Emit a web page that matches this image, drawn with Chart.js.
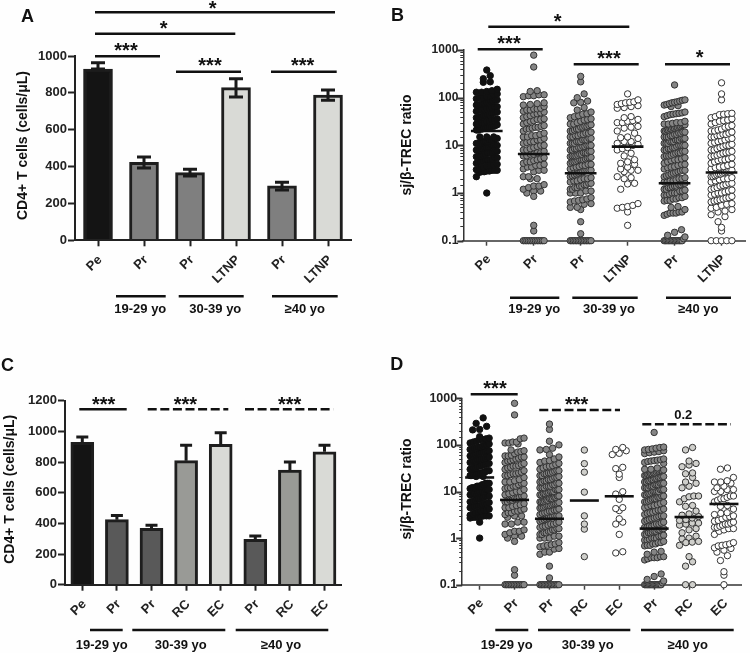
<!DOCTYPE html>
<html>
<head>
<meta charset="utf-8">
<title>CD4+ T cells and sj/beta-TREC ratio</title>
<script src="https://cdn.jsdelivr.net/npm/chart.js@4/dist/chart.umd.min.js"></script>
<style>
  html, body { margin: 0; padding: 0; background: #fefefe; }
  #page { position: relative; width: 750px; height: 653px; overflow: hidden; }
  canvas { position: absolute; }
</style>
</head>
<body>
<div id="page">
  <canvas id="panelA" width="375" height="326" style="left:0;top:0"></canvas>
  <canvas id="panelB" width="375" height="326" style="left:375px;top:0"></canvas>
  <canvas id="panelC" width="375" height="327" style="left:0;top:326px"></canvas>
  <canvas id="panelD" width="375" height="327" style="left:375px;top:326px"></canvas>
</div>
<script>
// panel A + C bars
const labelsA = ['Pe', 'Pr', 'Pr', 'LTNP', 'Pr', 'LTNP'];
const meansA = [929, 423, 367, 828, 296, 788];
const upperA = [964, 452, 385, 877, 315, 815];
const lowerA = [929, 392, 349, 778, 273, 760];

const labelsC = ['Pe', 'Pr', 'Pr', 'RC', 'EC', 'Pr', 'RC', 'EC'];
const meansC = [928, 424, 367, 809, 915, 296, 748, 867];
const upperC = [963, 452, 387, 909, 991, 317, 800, 909];

// panel B + D dots
const dotsPe = [1, 2.2, 2.7, 2.8, 2.8, 2.9, 2.9, 3, 3, 3, 3.1, 3.3, 3.5, 3.7, 3.8, 4, 4, 4.2, 4.5, 4.5, 4.8, 5, 5, 5, 5.2, 5.5, 5.5, 5.8, 6, 6, 6.2, 6.5, 7, 7, 7, 7.5, 7.5, 8, 8, 8, 8.5, 8.5, 9, 9, 9, 9.5, 10, 10, 10, 10, 11, 11, 11, 11.5, 12, 12, 12, 13, 13, 13, 14, 14, 15, 15, 15, 21, 21, 22, 22, 23, 23, 24, 24, 25, 25, 26, 27, 28, 28, 30, 30, 32, 32, 35, 35, 36, 38, 38, 40, 40, 42, 42, 45, 45, 48, 48, 50, 50, 52, 55, 55, 58, 60, 60, 62, 65, 65, 70, 70, 72, 75, 75, 80, 80, 85, 85, 90, 90, 95, 100, 100, 105, 110, 115, 120, 130, 130, 135, 140, 150, 210, 215, 250, 290, 380];
const dotsPr19 = [0.1, 0.1, 0.1, 0.1, 0.1, 0.1, 0.1, 0.1, 0.1, 0.1, 0.1, 0.1, 0.1, 0.16, 0.21, 0.85, 1, 1.1, 1.1, 1.2, 1.3, 1.4, 1.4, 1.5, 2, 2, 2.2, 2.2, 2.8, 3, 3, 3.2, 3.5, 3.5, 3.8, 3.8, 4, 4.2, 4.5, 4.5, 4.8, 5, 5.2, 5.5, 6, 6, 6.5, 6.5, 7, 7, 7.5, 8, 8, 8.5, 9, 9.5, 10, 10, 11, 11.5, 12, 12, 13, 13, 14, 15, 15, 16, 16, 17, 18, 20, 22, 22, 23, 24, 24, 25, 26, 28, 30, 32, 33, 35, 35, 36, 38, 40, 42, 45, 46, 48, 50, 52, 55, 55, 58, 58, 60, 65, 70, 72, 75, 78, 105, 110, 110, 115, 115, 135, 140, 440, 780];
const dotsPr30 = [0.1, 0.1, 0.1, 0.1, 0.1, 0.1, 0.1, 0.1, 0.1, 0.1, 0.1, 0.1, 0.1, 0.1, 0.14, 0.25, 0.45, 0.5, 0.5, 0.58, 0.6, 0.65, 0.68, 0.7, 0.72, 0.75, 0.8, 1, 1, 1, 1.1, 1.1, 1.2, 1.2, 1.3, 1.3, 1.4, 1.4, 1.5, 1.5, 1.6, 1.6, 1.7, 1.8, 1.8, 1.9, 2, 2, 2.1, 2.2, 2.3, 2.4, 2.5, 2.6, 2.7, 2.8, 2.9, 3, 3, 3, 3.2, 3.4, 3.5, 3.6, 3.8, 3.8, 4, 4, 4.2, 4.4, 4.5, 4.6, 4.8, 5, 5, 5, 5.2, 5.4, 5.5, 5.6, 5.8, 6, 6, 6, 6.2, 6.5, 6.5, 7, 7, 7, 7.5, 7.5, 8, 8, 8.5, 8.5, 9, 9, 9.5, 9.5, 10, 10, 10, 11, 11, 11, 12, 12, 12, 13, 13, 13, 14, 14, 15, 15, 16, 16, 17, 17, 18, 18, 19, 20, 20, 21, 22, 22, 24, 24, 25, 25, 26, 27, 28, 28, 30, 32, 34, 35, 36, 38, 40, 42, 45, 46, 50, 55, 62, 78, 80, 85, 100, 120, 215, 280];
const dotsLtnp30 = [0.21, 0.4, 0.48, 0.5, 0.52, 0.55, 0.6, 1.2, 1.55, 1.6, 2, 2.1, 2.2, 2.8, 3, 3, 3.2, 3.5, 4, 4.2, 4.5, 5, 6, 6.8, 8, 8.5, 9, 10, 10.5, 11, 12, 12, 14, 14.5, 15, 18, 20, 23, 24, 25, 30, 30, 32, 33, 35, 38, 40, 60, 62, 65, 68, 72, 75, 78, 80, 82, 90, 120];
const dotsPr40 = [0.1, 0.1, 0.1, 0.1, 0.1, 0.1, 0.1, 0.1, 0.1, 0.1, 0.1, 0.1, 0.1, 0.1, 0.11, 0.12, 0.13, 0.15, 0.17, 0.34, 0.36, 0.38, 0.38, 0.38, 0.4, 0.4, 0.45, 0.5, 0.52, 0.68, 0.7, 0.7, 0.75, 0.75, 0.8, 0.8, 0.85, 0.9, 0.9, 0.95, 1, 1, 1, 1.1, 1.1, 1.15, 1.2, 1.2, 1.3, 1.3, 1.35, 1.4, 1.4, 1.5, 1.5, 1.6, 1.6, 1.7, 1.7, 1.8, 1.8, 1.9, 2, 2, 2.1, 2.2, 2.3, 2.4, 2.5, 2.6, 2.7, 2.8, 2.9, 3, 3, 3.2, 3.4, 3.5, 3.6, 3.8, 4, 4, 4.2, 4.5, 4.8, 5, 5, 5.2, 5.5, 5.8, 6, 6, 6.2, 6.5, 6.8, 7, 7, 7.5, 7.5, 8, 8, 8.5, 8.5, 9, 9, 9.5, 10, 10, 10, 10, 11, 11, 11, 12, 12, 12, 13, 13, 13, 14, 14, 14, 15, 15, 15, 16, 16, 17, 17, 18, 18, 19, 19, 20, 20, 21, 21, 22, 22, 23, 23, 24, 24, 25, 25, 26, 27, 27, 28, 28, 29, 30, 30, 32, 40, 42, 44, 45, 46, 47, 48, 50, 65, 68, 70, 72, 75, 78, 80, 82, 85, 88, 90, 185];
const dotsLtnp40 = [0.1, 0.1, 0.1, 0.1, 0.1, 0.16, 0.19, 0.25, 0.32, 0.35, 0.4, 0.42, 0.45, 0.48, 0.5, 0.55, 0.58, 0.6, 0.65, 0.68, 0.7, 0.72, 0.75, 0.78, 0.8, 0.85, 0.9, 0.95, 1, 1, 1.05, 1.1, 1.15, 1.2, 1.25, 1.3, 1.4, 1.45, 1.5, 1.6, 1.6, 1.7, 1.8, 1.9, 2, 2, 2.1, 2.2, 2.2, 2.3, 2.4, 2.5, 2.5, 2.6, 2.7, 2.8, 2.9, 3, 3, 3.2, 3.4, 3.5, 3.6, 3.8, 4, 4.2, 4.5, 4.8, 5, 5, 5.2, 5.5, 5.8, 6, 6.2, 6.5, 6.8, 7, 7.2, 7.5, 8, 8, 8.5, 9, 9.5, 10, 10, 10.5, 11, 11.5, 12, 12.5, 13, 14, 14, 15, 15, 16, 16, 17, 17, 18, 19, 20, 20, 21, 22, 24, 25, 26, 28, 30, 32, 33, 34, 36, 38, 40, 44, 45, 46, 47, 90, 120, 205];
const dotsRc30 = [0.4, 1.56, 2, 3, 9.7, 26, 39.6, 77.6];
const dotsEc30 = [0.48, 0.51, 1.2, 2, 2.2, 2.6, 3.9, 4.3, 4.5, 6.8, 8.8, 9.9, 20, 23.5, 31, 33, 62, 66, 75, 80, 88];
const dotsRc40 = [0.1, 0.1, 0.25, 0.31, 0.4, 0.7, 0.8, 0.82, 0.85, 0.96, 1, 1.1, 1.3, 1.5, 1.6, 1.9, 2, 2.1, 2.1, 2.4, 2.5, 2.7, 2.9, 3.1, 3.3, 3.8, 4.8, 5, 6, 7, 7.7, 8, 8, 12, 13, 15, 16, 20, 24, 25, 34, 37, 40, 45, 78, 88];
const dotsEc40 = [0.1, 0.16, 0.19, 0.33, 0.42, 0.5, 0.55, 0.6, 0.62, 0.68, 0.7, 0.72, 0.75, 0.8, 1.2, 1.4, 1.5, 1.6, 1.6, 1.7, 1.7, 1.8, 1.9, 2, 2, 2.1, 2.2, 2.3, 2.4, 2.6, 2.8, 2.9, 3, 3.2, 3.4, 3.5, 4.2, 4.8, 5, 6, 6.5, 7, 7, 7.5, 8, 8, 10, 10, 11, 11, 12, 13, 15, 16, 16, 17, 20, 30, 32];

const labelsB = ['Pe', 'Pr', 'Pr', 'LTNP', 'Pr', 'LTNP'];
const dotsB = [dotsPe, dotsPr19, dotsPr30, dotsLtnp30, dotsPr40, dotsLtnp40];
const meansB = [20, 6.6, 2.6, 9.4, 1.6, 2.7];
const labelsD = ['Pe', 'Pr', 'Pr', 'RC', 'EC', 'Pr', 'RC', 'EC'];
const dotsD = [dotsPe, dotsPr19, dotsPr30, dotsRc30, dotsEc30, dotsPr40, dotsRc40, dotsEc40];
const meansD = [20, 6.6, 2.6, 6.4, 7.9, 1.6, 2.83, 5.4];

const FONT = '"Liberation Sans", Arial, sans-serif';
const INK = '#222';

// lines, stars and texts sit around the plot; page pixels
const notesA = {
  letter: ['A', 21, 22],
  title: ['CD4+ T cells (cells/μL)', 23, 145.5],
  lines: [[95, 335, 12.3], [95, 235.3, 33.7], [95, 160, 56.3], [176, 241, 71.7], [271, 336.7, 71.7],
    [116, 165.7, 296.3], [178.7, 243.7, 296.3], [272, 337.7, 296.3]],
  stars: [['*', 212.7, 5], ['*', 163.7, 25], ['***', 126, 47.3], ['***', 210, 61.7], ['***', 302.7, 61.7]],
  groups: [['19-29 yo', 140.3, 309], ['30-39 yo', 215.3, 309], ['≥40 yo', 304.7, 309]]
};
const notesB = {
  letter: ['B', 391, 21],
  title: ['sj/β-TREC ratio', 406.7, 145],
  lines: [[488.3, 629.3, 26.7], [477.7, 542.7, 49.3], [573.7, 638.7, 64.3], [665, 730, 64.3],
    [510, 559.3, 297.7], [572.3, 637.7, 297.7], [666, 731, 297.7]],
  stars: [['*', 557.7, 17.7], ['***', 509, 40], ['***', 609, 55], ['*', 699.7, 54.3]],
  groups: [['19-29 yo', 534.3, 309], ['30-39 yo', 609, 309], ['≥40 yo', 698.3, 309]]
};
const notesC = {
  letter: ['C', 1, 371],
  title: ['CD4+ T cells (cells/μL)', 10, 489.3],
  lines: [[79.3, 126.7, 409.3], [90, 122.7, 630], [132.3, 225.3, 630], [235.7, 328.3, 630]],
  dashed: [[147.7, 228.3, 409.3], [245, 333.3, 409.3]],
  stars: [['***', 103.7, 400.7], ['***', 185.3, 400.7], ['***', 289.7, 400.7]],
  groups: [['19-29 yo', 101.7, 645], ['30-39 yo', 180.7, 645], ['≥40 yo', 281, 645]]
};
const notesD = {
  letter: ['D', 390.3, 370],
  title: ['sj/β-TREC ratio', 406.7, 489],
  lines: [[470.7, 517.7, 394.3], [495.3, 528.3, 630], [538, 630.3, 630], [641, 733.7, 630]],
  dashed: [[539.3, 620, 410], [642.3, 731, 424.3]],
  stars: [['***', 495, 385.3], ['***', 576.7, 401]],
  texts: [['0.2', 683.3, 415]],
  groups: [['19-29 yo', 506.7, 645], ['30-39 yo', 587.7, 645], ['≥40 yo', 687.7, 645]]
};

function notesPlugin(notes, panel) {
  return {
    id: 'notes',
    afterDraw(chart) {
      const c = chart.ctx;
      c.save();
      c.translate(-panel.x, -panel.y);
      c.fillStyle = '#111';
      c.strokeStyle = '#111';
      c.lineWidth = 2.4;
      (notes.lines || []).forEach(l => {
        c.beginPath(); c.moveTo(l[0], l[2]); c.lineTo(l[1], l[2]); c.stroke();
      });
      c.setLineDash([9, 3.6]);
      (notes.dashed || []).forEach(l => {
        c.beginPath(); c.moveTo(l[0], l[2]); c.lineTo(l[1], l[2]); c.stroke();
      });
      c.setLineDash([]);
      c.textAlign = 'center';
      c.textBaseline = 'alphabetic';
      c.font = 'bold 20px ' + FONT;
      (notes.stars || []).forEach(s => c.fillText(s[0], s[1], s[2] + 10));
      c.textBaseline = 'middle';
      c.font = 'bold 13px ' + FONT;
      (notes.groups || []).forEach(s => c.fillText(s[0], s[1], s[2]));
      (notes.texts || []).forEach(s => c.fillText(s[0], s[1], s[2]));
      c.save();
      c.translate(notes.title[1], notes.title[2]);
      c.rotate(-Math.PI / 2);
      c.font = 'bold 14px ' + FONT;
      c.fillText(notes.title[0], 0, 0);
      c.restore();
      c.textAlign = 'left';
      c.textBaseline = 'alphabetic';
      c.font = 'bold 18px ' + FONT;
      c.fillText(notes.letter[0], notes.letter[1], notes.letter[2]);
      c.restore();
    }
  };
}

// whiskers for the bars, both values go through the y scale
const errorBars = {
  id: 'errorBars',
  afterDatasetsDraw(chart, args, opts) {
    const c = chart.ctx;
    const x = chart.scales.x;
    const y = chart.scales.y;
    c.save();
    c.strokeStyle = '#1a1a1a';
    c.lineWidth = 3;
    opts.upper.forEach((up, i) => {
      const px = x.getPixelForValue(i);
      const low = opts.lower ? opts.lower[i] : chart.data.datasets[0].data[i];
      c.beginPath();
      c.moveTo(px, y.getPixelForValue(low));
      c.lineTo(px, y.getPixelForValue(up));
      c.moveTo(px - opts.cap, y.getPixelForValue(up));
      c.lineTo(px + opts.cap, y.getPixelForValue(up));
      if (opts.lower) {
        c.moveTo(px - opts.cap, y.getPixelForValue(low));
        c.lineTo(px + opts.cap, y.getPixelForValue(low));
      }
      c.stroke();
    });
    c.restore();
  }
};

// small ticks of the log axis, taken from the scale's own ticks
const logTicks = {
  id: 'logTicks',
  afterDraw(chart) {
    const c = chart.ctx;
    const y = chart.scales.y;
    c.save();
    c.strokeStyle = '#333';
    y.ticks.forEach(t => {
      const isMajor = isDecade(t.value);
      const py = Math.round(y.getPixelForValue(t.value)) + 0.5;
      c.lineWidth = isMajor ? 2 : 1;
      c.beginPath();
      c.moveTo(y.right, py);
      c.lineTo(y.right - (isMajor ? 6 : 3), py);
      c.stroke();
    });
    c.restore();
  }
};

function isDecade(v) {
  const e = Math.log10(v);
  return Math.abs(e - Math.round(e)) < 1e-6;
}

function fixSize(axis, size) {
  return function (scale) {
    scale[axis] = size;
    scale.paddingLeft = scale.paddingRight = scale.paddingTop = scale.paddingBottom = 0;
  };
}

function plotPadding(panel, plot) {
  return {
    left: plot.left - panel.x - 60,
    right: panel.x + panel.w - plot.right,
    top: plot.top - panel.y,
    bottom: panel.y + panel.h - plot.bottom - 60
  };
}

function barPanel(id, panel, plot, labels, means, colors, upper, lower, notes, barPx, cap) {
  new Chart(document.getElementById(id), {
    type: 'bar',
    data: {
      labels: labels,
      datasets: [{
        data: means,
        backgroundColor: colors,
        borderColor: '#1e1e1e',
        borderWidth: 3,
        barThickness: barPx
      }]
    },
    options: {
      responsive: false,
      animation: false,
      layout: { padding: plotPadding(panel, plot) },
      plugins: {
        legend: { display: false },
        tooltip: { enabled: false },
        errorBars: { upper: upper, lower: lower, cap: cap }
      },
      scales: {
        x: {
          afterFit: fixSize('height', 60),
          grid: { drawOnChartArea: false, offset: false, tickLength: 6, tickWidth: 2, tickColor: INK },
          border: { color: INK, width: 2, z: 1 },
          ticks: { color: INK, font: { family: FONT, size: 13, weight: 'bold' }, minRotation: 45, maxRotation: 45, autoSkip: false, padding: 6, labelOffset: 2 }
        },
        y: {
          min: 0,
          max: plot.max,
          afterFit: fixSize('width', 60),
          grid: { drawOnChartArea: false, tickLength: 7, tickWidth: 2, tickColor: INK },
          border: { color: INK, width: 2, z: 1 },
          ticks: { color: INK, stepSize: 200, font: { family: FONT, size: 13, weight: 'bold' }, padding: 1, callback: v => String(v) }
        }
      }
    },
    plugins: [errorBars, notesPlugin(notes, panel)]
  });
}

// dots falling in one row sit symmetric round the category, closing up when a row is crowded
function swarm(values, index, catPx, decadePx, maxOff) {
  const rowPx = 6.5;
  const rows = {};
  values.forEach(v => {
    const r = Math.round(Math.log10(v) * decadePx / rowPx);
    (rows[r] = rows[r] || []).push(v);
  });
  const points = [];
  Object.values(rows).forEach(row => {
    const step = row.length > 1 ? Math.min(7, 2 * maxOff / (row.length - 1)) : 0;
    row.forEach((v, i) => {
      points.push({ x: index + (i - (row.length - 1) / 2) * step / catPx, y: v });
    });
  });
  return points;
}

function dotPanel(id, panel, plot, labels, dots, means, fills, notes, maxOff, meanHalf, tickFont) {
  const catPx = (plot.right - plot.left) / labels.length;
  const decadePx = (plot.bottom - plot.top) / 4;
  const datasets = [];
  means.forEach((m, i) => {
    datasets.push({
      showLine: true,
      data: [{ x: i - meanHalf / catPx, y: m }, { x: i + meanHalf / catPx, y: m }],
      borderColor: '#111',
      borderWidth: 2.6,
      pointRadius: 0,
      clip: false,
      order: 0
    });
  });
  dots.forEach((vals, i) => {
    datasets.push({
      data: swarm(vals, i, catPx, decadePx, maxOff),
      backgroundColor: fills[i],
      borderColor: i === 0 ? '#111' : '#333',
      borderWidth: 1,
      pointRadius: 3.2,
      clip: false,
      order: 1
    });
  });
  new Chart(document.getElementById(id), {
    type: 'scatter',
    data: { datasets: datasets },
    options: {
      responsive: false,
      animation: false,
      layout: { padding: plotPadding(panel, plot) },
      plugins: { legend: { display: false }, tooltip: { enabled: false } },
      scales: {
        x: {
          type: 'linear',
          min: -0.5,
          max: labels.length - 0.5,
          afterBuildTicks: s => { s.ticks = labels.map((_, i) => ({ value: i })); },
          afterFit: fixSize('height', 60),
          grid: { drawOnChartArea: false, tickLength: 5, tickWidth: 1.5, tickColor: '#444' },
          border: { color: '#666', width: 2 },
          ticks: {
            color: INK,
            font: { family: FONT, size: 13, weight: 'bold' },
            minRotation: 45,
            maxRotation: 45,
            autoSkip: false,
            padding: 6,
            labelOffset: 2,
            callback: v => labels[v]
          }
        },
        y: {
          type: 'logarithmic',
          min: 0.1,
          max: 1000,
          afterFit: fixSize('width', 60),
          grid: { drawOnChartArea: false, drawTicks: false },
          border: { color: '#333', width: 1.5 },
          ticks: {
            color: INK,
            autoSkip: false,
            padding: 5,
            font: { family: FONT, size: tickFont, weight: 'bold' },
            callback: v => (isDecade(v) ? String(v) : '')
          }
        }
      }
    },
    plugins: [logTicks, notesPlugin(notes, panel)]
  });
}

const BLACK = '#141414', GRAY_A = '#7f7f7f', PALE = '#d9dad6', GRAY_C = '#595959', MID_C = '#999a96';
const DOT_BLACK = '#111', DOT_GRAY = '#858585', DOT_PALE = '#cfcfcb', DOT_WHITE = '#ffffff';

barPanel('panelA', { x: 0, y: 0, w: 375, h: 326 }, { left: 75, right: 351, top: 56, bottom: 240.3, max: 1000 },
  labelsA, meansA, [BLACK, GRAY_A, GRAY_A, PALE, GRAY_A, PALE], upperA, lowerA, notesA, 29, 7);
dotPanel('panelB', { x: 375, y: 0, w: 375, h: 326 }, { left: 463.3, right: 748, top: 50, bottom: 240.7 },
  labelsB, dotsB, meansB, [DOT_BLACK, DOT_GRAY, DOT_GRAY, DOT_WHITE, DOT_GRAY, DOT_WHITE], notesB, 10.5, 16, 12);
barPanel('panelC', { x: 0, y: 326, w: 375, h: 327 }, { left: 65, right: 341.8, top: 400.7, bottom: 584.7, max: 1200 },
  labelsC, meansC, [BLACK, GRAY_C, GRAY_C, MID_C, PALE, GRAY_C, MID_C, PALE], upperC, null, notesC, 23, 6);
dotPanel('panelD', { x: 375, y: 326, w: 375, h: 327 }, { left: 462.2, right: 741.4, top: 398.3, bottom: 584.7 },
  labelsD, dotsD, meansD, [DOT_BLACK, DOT_GRAY, DOT_GRAY, DOT_PALE, DOT_WHITE, DOT_GRAY, DOT_PALE, DOT_WHITE], notesD, 9.5, 14.5, 12.5);
</script>
</body>
</html>
